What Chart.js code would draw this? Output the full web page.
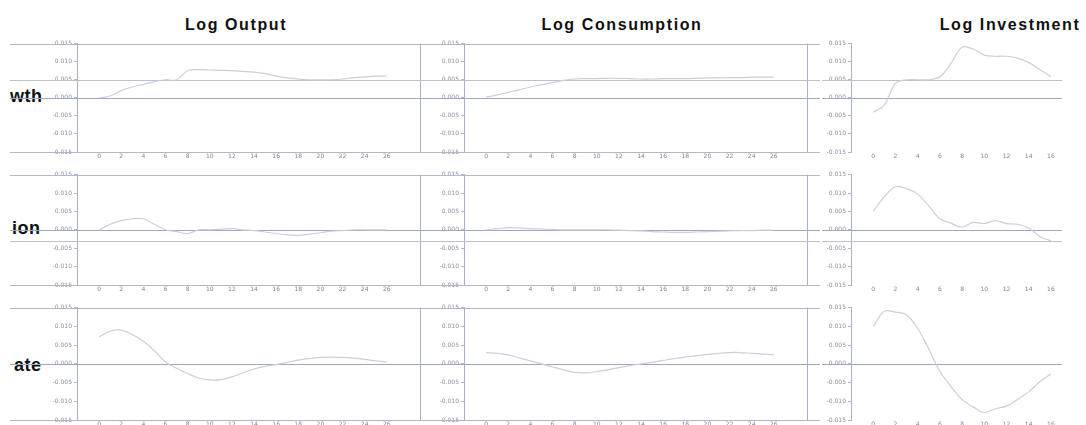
<!DOCTYPE html>
<html>
<head>
<meta charset="utf-8">
<script src="https://cdn.jsdelivr.net/npm/chart.js@4"></script>
<style>
  html, body { margin: 0; padding: 0; background: #fff; overflow: hidden; }
  #page { position: relative; width: 1086px; height: 425px; }
  .title { position: absolute; top: 16px; font: bold 16px "Liberation Sans", Arial, sans-serif; letter-spacing: 1.6px; color: #111; white-space: nowrap; transform: translateX(-50%); }
  .rowlab { position: absolute; font: bold 18px "Liberation Sans", Arial, sans-serif; color: #111; letter-spacing: 0.5px; }
  .panel { position: absolute; }
</style>
</head>
<body>
<div id="page">
  <div class="title" style="left:236px">Log Output</div>
  <div class="title" style="left:622px">Log Consumption</div>
  <div class="title" style="left:1010px">Log Investment</div>
  <div class="rowlab" style="left:10px;top:86px">wth</div>
  <div class="rowlab" style="left:12px;top:218px">ion</div>
  <div class="rowlab" style="left:14px;top:355px">ate</div>
</div>
<script>
// horizons
const stepsLong = [0,1,2,3,4,5,6,7,8,9,10,11,12,13,14,15,16,17,18,19,20,21,22,23,24,25,26];
const stepsShort = [0,1,2,3,4,5,6,7,8,9,10,11,12,13,14,15,16];
const xTicksLong = [0,2,4,6,8,10,12,14,16,18,20,22,24,26];
const xTicksShort = [0,2,4,6,8,10,12,14,16];
const yTicks = [-0.015,-0.010,-0.005,0,0.005,0.010,0.015];

// responses, one array per shock row and variable column
const growthOutput = [0,0.0005,0.002,0.003,0.0037,0.0045,0.005,0.005,0.0075,0.0078,0.0077,0.0076,0.0075,0.0073,0.0071,0.0067,0.006,0.0055,0.0052,0.005,0.005,0.005,0.0052,0.0056,0.0058,0.006,0.006];
const growthConsumption = [0.0002,0.0008,0.0015,0.0022,0.003,0.0036,0.0042,0.0048,0.0052,0.0053,0.0053,0.0054,0.0054,0.0053,0.0052,0.0052,0.0053,0.0053,0.0053,0.0054,0.0055,0.0055,0.0056,0.0056,0.0057,0.0057,0.0057];
const growthInvestment = [-0.004,-0.002,0.004,0.005,0.005,0.005,0.0058,0.0095,0.014,0.0135,0.0118,0.0115,0.0115,0.011,0.0098,0.0078,0.0058];

const inflationOutput = [0,0.0015,0.0025,0.003,0.003,0.0015,0,-0.0005,-0.001,0,0,0.0002,0.0003,0,-0.0002,-0.0006,-0.001,-0.0014,-0.0015,-0.0012,-0.0008,-0.0004,-0.0002,0,0,0,0];
const inflationConsumption = [0,0.0003,0.0006,0.0005,0.0003,0.0002,0.0001,0,0,0,0,0,-0.0001,-0.0002,-0.0003,-0.0005,-0.0006,-0.0007,-0.0007,-0.0006,-0.0005,-0.0004,-0.0003,-0.0002,-0.0002,-0.0001,-0.0001];
const inflationInvestment = [0.005,0.009,0.0117,0.0112,0.0097,0.0065,0.003,0.0018,0.0007,0.002,0.0017,0.0025,0.0017,0.0015,0.0005,-0.0018,-0.003];

const rateOutput = [0.0072,0.0087,0.009,0.0078,0.006,0.0035,0.0005,-0.0012,-0.0026,-0.0038,-0.0043,-0.0042,-0.0035,-0.0024,-0.0014,-0.0007,-0.0002,0.0004,0.001,0.0014,0.0017,0.0018,0.0017,0.0015,0.0012,0.0008,0.0005];
const rateConsumption = [0.003,0.0028,0.0024,0.0016,0.0008,0,-0.0008,-0.0016,-0.0023,-0.0024,-0.0021,-0.0016,-0.001,-0.0005,0,0.0004,0.0009,0.0014,0.0018,0.0022,0.0025,0.0028,0.003,0.003,0.0028,0.0026,0.0024];
const rateInvestment = [0.010,0.014,0.0138,0.013,0.0095,0.004,-0.002,-0.006,-0.0095,-0.0115,-0.013,-0.012,-0.0113,-0.0095,-0.0075,-0.0048,-0.0027];

// extra horizontal rule per row
const rowRules = [0.005, -0.003, 0];

const rows = [
  [growthOutput, growthConsumption, growthInvestment],
  [inflationOutput, inflationConsumption, inflationInvestment],
  [rateOutput, rateConsumption, rateInvestment]
];

// panel geometry
const cols = [
  { left: 10, axisW: 67, width: 425, padRight: 15, xMax: 29, steps: stepsLong, ticks: xTicksLong, frame: true },
  { left: 420, axisW: 44, width: 400, padRight: 13, xMax: 29, steps: stepsLong, ticks: xTicksLong, frame: true },
  { left: 822, axisW: 29, width: 264, padRight: 24, xMax: 17, steps: stepsShort, ticks: xTicksShort, frame: false }
];
const rowTops = [42, 173, 306];
const rowBottoms = [152, 285, 420];

const tickFont = { family: 'DejaVu Sans', size: 6 };

const rulesPlugin = {
  id: 'rules',
  beforeDatasetsDraw(chart, args, opts) {
    const { ctx, chartArea, scales } = chart;
    const w = opts.frame ? chart.width : chartArea.right;
    ctx.save();
    ctx.lineWidth = 1;
    const hline = (y, x0, x1, color) => {
      ctx.strokeStyle = color;
      ctx.beginPath();
      ctx.moveTo(x0, Math.round(y) + 0.5);
      ctx.lineTo(x1, Math.round(y) + 0.5);
      ctx.stroke();
    };
    if (opts.frame) {
      hline(chartArea.top, 0, w, '#b4b8c6');
      hline(chartArea.bottom, 0, w, '#b4b8c6');
      ctx.strokeStyle = '#a9b0c9';
      ctx.beginPath();
      ctx.moveTo(Math.round(chartArea.right) + 0.5, chartArea.top);
      ctx.lineTo(Math.round(chartArea.right) + 0.5, chartArea.bottom);
      ctx.stroke();
    }
    hline(scales.y.getPixelForValue(opts.rule), 0, w, '#bcc1d2');
    hline(scales.y.getPixelForValue(0), 0, w, '#9ea7c6');
    ctx.restore();
  }
};

const page = document.getElementById('page');

rows.forEach((row, r) => {
  row.forEach((series, c) => {
    const col = cols[c];
    const top = rowTops[r] - 4;
    const height = rowBottoms[r] + 16 - top;
    const holder = document.createElement('div');
    holder.className = 'panel';
    holder.style.left = col.left + 'px';
    holder.style.top = top + 'px';
    holder.style.width = col.width + 'px';
    holder.style.height = height + 'px';
    const canvas = document.createElement('canvas');
    canvas.width = col.width;
    canvas.height = height;
    holder.appendChild(canvas);
    page.appendChild(holder);

    new Chart(canvas, {
      type: 'line',
      data: {
        datasets: [{
          data: col.steps.map((s, i) => ({ x: s, y: series[i] })),
          borderColor: '#cbcfdb',
          borderWidth: 1.2,
          pointRadius: 0,
          tension: 0.35,
          fill: false
        }]
      },
      plugins: [rulesPlugin],
      options: {
        responsive: false,
        animation: false,
        events: [],
        layout: { padding: { top: 4, right: col.padRight, left: 0, bottom: 0 } },
        plugins: {
          legend: { display: false },
          tooltip: { enabled: false },
          rules: { frame: col.frame, rule: rowRules[r] }
        },
        scales: {
          x: {
            type: 'linear',
            min: -2,
            max: col.xMax,
            afterBuildTicks: (scale) => { scale.ticks = col.ticks.map(v => ({ value: v })); },
            afterFit: (scale) => { scale.height = 16; },
            grid: { display: false, drawTicks: false },
            border: { display: false },
            ticks: { autoSkip: false, maxRotation: 0, padding: 1, color: '#7e8499', font: tickFont }
          },
          y: {
            min: -0.015,
            max: 0.015,
            afterBuildTicks: (scale) => { scale.ticks = yTicks.map(v => ({ value: v })); },
            afterFit: (scale) => { scale.width = col.axisW; },
            grid: { display: true, drawOnChartArea: false, tickLength: 3, color: '#b0b6ca' },
            border: { display: true, color: '#a9b0c9' },
            ticks: {
              padding: 2,
              color: '#8a90a4',
              font: tickFont,
              callback: (v) => Math.abs(v) < 1e-9 ? '0.000' : v.toFixed(3)
            }
          }
        }
      }
    });
  });
});
</script>
</body>
</html>
